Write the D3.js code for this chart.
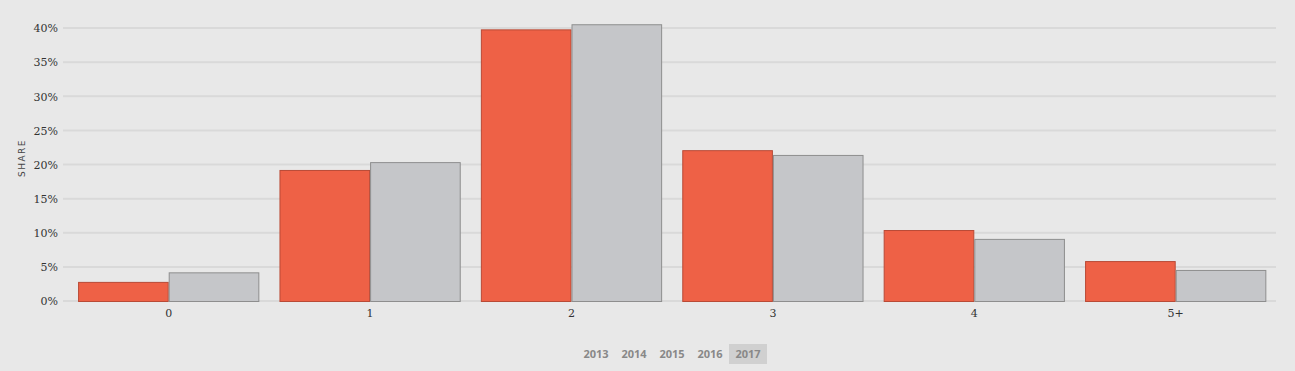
<!DOCTYPE html>
<html>
<head>
<meta charset="utf-8">
<script src="https://cdn.jsdelivr.net/npm/d3@7"></script>
<style>
  body { margin: 0; background: #e8e8e8; }
  svg { display: block; }
  .tick text { font-family: "DejaVu Serif", Georgia, serif; font-size: 11px; fill: #333; }
</style>
</head>
<body>
<div id="chart"></div>
<script>
// data
var categories = ["0", "1", "2", "3", "4", "5+"];
var seriesA = [2.8, 19.2, 39.8, 22.1, 10.4, 5.85];   // red
var seriesB = [4.2, 20.35, 40.55, 21.4, 9.1, 4.55];  // grey
var yTicks = [0, 5, 10, 15, 20, 25, 30, 35, 40];
var years = ["2013", "2014", "2015", "2016", "2017"];
var activeYear = "2017";

var svgWidth = 1295;
var svgHeight = 371;

var svg = d3.select("#chart").append("svg")
    .attr("width", svgWidth)
    .attr("height", svgHeight);

svg.append("rect").attr("width", svgWidth).attr("height", svgHeight).attr("fill", "#e8e8e8");

//scales
var x = d3.scaleBand()
    .domain(categories)
    .range([68, 1276.4])
    .paddingInner(0.1)
    .paddingOuter(0.05);

var xSub = d3.scaleBand()
    .domain(["a", "b"])
    .range([0, x.bandwidth()]);

var y = d3.scaleLinear()
    .domain([0, 40])
    .range([301, 28]);

//gridlines
svg.append("g")
    .selectAll("line")
    .data(yTicks)
    .enter()
    .append("line")
    .attr("x1", 63)
    .attr("x2", 1276)
    .attr("y1", d => y(d))
    .attr("y2", d => y(d))
    .attr("stroke", "#d9d9d9")
    .attr("stroke-width", 2);

//y axis labels
var yAxis = svg.append("g")
    .attr("transform", "translate(63,0)")
    .call(d3.axisLeft(y).tickValues(yTicks).tickSize(0).tickPadding(5).tickFormat(d => d + "%"));
yAxis.select(".domain").remove();
yAxis.selectAll("text").attr("dy", "0.35em");

//x axis labels
var xAxis = svg.append("g")
    .attr("transform", "translate(0,301)")
    .call(d3.axisBottom(x).tickSize(0).tickPadding(8));
xAxis.select(".domain").remove();

//bars
var groups = svg.append("g")
    .selectAll("g")
    .data(categories)
    .enter()
    .append("g")
    .attr("transform", d => `translate(${x(d)},0)`);

groups.append("rect")
    .attr("x", xSub("a") + 0.5)
    .attr("y", (d, i) => y(seriesA[i]) + 0.5)
    .attr("width", xSub.bandwidth() - 1)
    .attr("height", (d, i) => y(0) - y(seriesA[i]))
    .attr("fill", "#ee6146")
    .attr("stroke", "#b94a36")
    .attr("stroke-width", 1);

groups.append("rect")
    .attr("x", xSub("b") + 0.5)
    .attr("y", (d, i) => y(seriesB[i]) + 0.5)
    .attr("width", xSub.bandwidth() - 1)
    .attr("height", (d, i) => y(0) - y(seriesB[i]))
    .attr("fill", "#c5c6c9")
    .attr("stroke", "#8e8e8e")
    .attr("stroke-width", 1);

//y axis title
svg.append("text")
    .attr("transform", "translate(25,158) rotate(-90)")
    .attr("text-anchor", "middle")
    .attr("font-family", "'DejaVu Sans', sans-serif")
    .attr("font-size", "9px")
    .attr("letter-spacing", "1.5px")
    .attr("fill", "#444")
    .text("SHARE");

//year selector
var yearGroup = svg.append("g");
var yearX = d3.scalePoint()
    .domain(years)
    .range([596, 748]);

yearGroup.selectAll("rect")
    .data(years.filter(d => d == activeYear))
    .enter()
    .append("rect")
    .attr("x", d => yearX(d) - 19)
    .attr("y", 344)
    .attr("width", 38)
    .attr("height", 20)
    .attr("fill", "#d0d0d0");

yearGroup.selectAll("text")
    .data(years)
    .enter()
    .append("text")
    .attr("x", d => yearX(d))
    .attr("y", 354)
    .attr("dy", "0.35em")
    .attr("text-anchor", "middle")
    .attr("font-family", "'Open Sans', sans-serif")
    .attr("font-weight", "bold")
    .attr("font-size", "11px")
    .attr("fill", "#888")
    .text(d => d);
</script>
</body>
</html>
